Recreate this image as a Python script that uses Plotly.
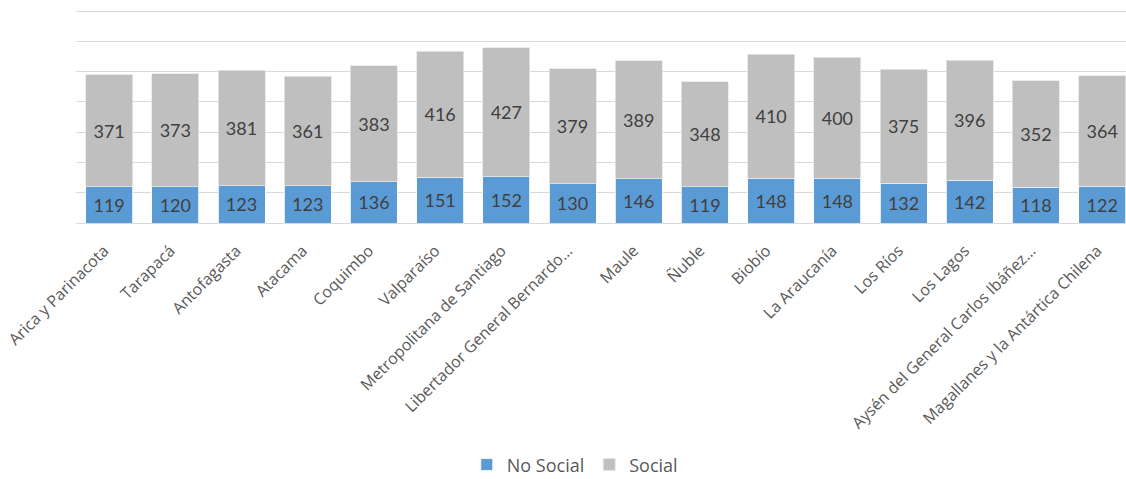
import plotly.graph_objects as go

regions = ["Arica y Parinacota", "Tarapacá", "Antofagasta", "Atacama", "Coquimbo",
           "Valparaíso", "Metropolitana de Santiago", "Libertador General Bernardo…",
           "Maule", "Ñuble", "Biobío", "La Araucanía", "Los Ríos", "Los Lagos",
           "Aysén del General Carlos Ibáñez…", "Magallanes y la Antártica Chilena"]
no_social = [119, 120, 123, 123, 136, 151, 152, 130, 146, 119, 148, 148, 132, 142, 118, 122]
social = [371, 373, 381, 361, 383, 416, 427, 379, 389, 348, 410, 400, 375, 396, 352, 364]

x = list(range(len(regions)))
label_font = dict(family="Lato, Open Sans, sans-serif", size=18, color="#404040")

fig = go.Figure()
fig.add_trace(go.Bar(x=x, y=no_social, name="No Social", marker_color="#5B9BD5",
                     marker_line=dict(color="#FFFFFF", width=0.8),
                     text=no_social, textposition="inside", insidetextanchor="middle",
                     textfont=label_font, cliponaxis=True, constraintext="none"))
fig.add_trace(go.Bar(x=x, y=social, name="Social", marker_color="#BFBFBF",
                     marker_line=dict(color="#E6E6E6", width=0.8),
                     text=social, textposition="inside", insidetextanchor="middle",
                     textfont=label_font, cliponaxis=True, constraintext="none"))

fig.update_layout(
    barmode="stack", bargap=0.29,
    width=1126, height=479,
    margin=dict(l=76, r=0, t=8, b=256, autoexpand=False),
    paper_bgcolor="white", plot_bgcolor="white",
    font=dict(family="Open Sans, sans-serif", color="#595959"),
    uniformtext=dict(minsize=14, mode="show"),
    legend=dict(orientation="h", x=0.475, xanchor="center", y=-1.125, yanchor="middle",
                font=dict(size=18, color="#595959"), traceorder="normal",
                itemwidth=30),
    showlegend=True,
)
fig.update_xaxes(tickvals=x, ticktext=regions, tickangle=-45,
                 range=[-0.5, 15.36], showgrid=False, automargin=False,
                 showline=True, linecolor="#D9D9D9", linewidth=1,
                 tickfont=dict(size=16, color="#595959"), ticks="outside",
                 ticklen=6, tickcolor="rgba(0,0,0,0)",
                 ticklabelshift=-5, ticklabelstandoff=5)
fig.update_yaxes(range=[0, 710], tickvals=[100, 200, 300, 400, 500, 600, 700],
                 showticklabels=False, automargin=False,
                 showgrid=True, gridcolor="#D9D9D9", gridwidth=1, zeroline=False)

fig.write_html("out.html", config={"displayModeBar": False},
               post_script="document.body.style.margin='0';document.body.style.overflow='hidden';document.documentElement.style.overflow='hidden';")
